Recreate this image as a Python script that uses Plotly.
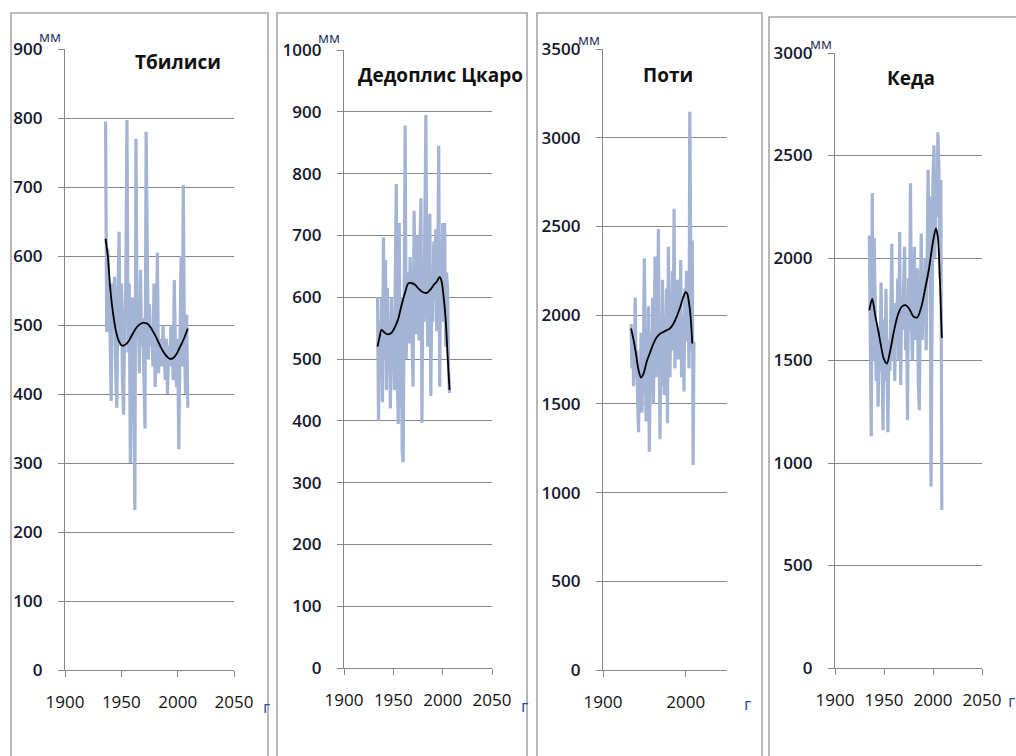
import plotly.graph_objects as go

# ---------------- DATA ----------------
stations = ["Тбилиси", "Дедоплис Цкаро", "Поти", "Кеда"]

tbilisi_start = 1936
tbilisi_vals = [795, 490, 610, 560, 485, 390, 560, 520, 570, 430,
                380, 540, 635, 470, 560, 420, 370, 510, 570, 797,
                460, 560, 300, 470, 540, 410, 232, 770, 480, 540,
                430, 580, 470, 510, 450, 350, 780, 570, 450, 530,
                470, 500, 440, 560, 410, 480, 605, 430, 470, 480,
                440, 500, 470, 420, 480, 400, 470, 440, 500, 480,
                420, 565, 470, 410, 480, 320, 460, 600, 440, 703,
                470, 400, 515, 380]
tbilisi_trend_years = [1936, 1938, 1940, 1942, 1945, 1948, 1951, 1954, 1957, 1961, 1965, 1969,
                       1973, 1977, 1981, 1985, 1989, 1993, 1996, 1999, 2002, 2005, 2009]
tbilisi_trend = [625, 600, 556, 525, 493, 476, 470, 472, 478, 490, 499, 503,
                 502, 494, 482, 468, 457, 451, 452, 458, 468, 478, 495]

dedo_start = 1934
dedo_vals = [600, 400, 560, 470, 600, 430, 697, 500, 660, 450,
             615, 480, 560, 420, 600, 510, 540, 450, 640, 783,
             470, 395, 720, 420, 600, 350, 333, 620, 878, 500,
             560, 640, 525, 665, 600, 480, 455, 740, 620, 540,
             700, 580, 530, 690, 760, 397, 640, 560, 700, 895,
             600, 520, 680, 735, 440, 620, 560, 690, 600, 710,
             545, 640, 845, 455, 680, 600, 720, 560, 720, 520,
             640, 610, 480, 445]
dedo_trend_years = [1934, 1936, 1938, 1941, 1944, 1948, 1952, 1955, 1958, 1962, 1965, 1968,
                    1972, 1976, 1980, 1984, 1988, 1991, 1994, 1997, 1999, 2001, 2003, 2005, 2007]
dedo_trend = [520, 535, 547, 543, 540, 542, 553, 565, 585, 608, 622, 623,
              620, 613, 608, 607, 613, 620, 625, 633, 625, 600, 565, 505, 450]

poti_start = 1934
poti_vals = [1950, 1700, 1880, 1600, 1750, 2100, 1650, 1800, 1500, 1340,
             1700, 1550, 1900, 1450, 1650, 1800, 2320, 1600, 1400, 1750,
             1500, 2050, 1230, 1600, 1900, 1700, 2100, 1500, 1800, 2330,
             1650, 2000, 1850, 2485, 1700, 1300, 1950, 1600, 2200, 1800,
             1550, 2000, 1750, 2150, 1390, 2385, 1900, 1650, 2050, 1800,
             2250, 1950, 2600, 1700, 2000, 1850, 2200, 1750, 2050, 1900,
             2310, 1650, 2000, 1800, 1570, 2150, 1900, 2250, 1850, 2050,
             1700, 3146, 2100, 1800, 2420, 1156, 1850]
poti_trend_years = [1934, 1937, 1940, 1943, 1946, 1949, 1953, 1957, 1961, 1965, 1969, 1973,
                    1977, 1981, 1985, 1989, 1993, 1997, 2000, 2002, 2004, 2006, 2008]
poti_trend = [1925, 1860, 1780, 1690, 1648, 1670, 1740, 1790, 1840, 1875, 1895, 1905,
              1915, 1925, 1950, 1990, 2040, 2100, 2130, 2120, 2070, 1990, 1840]

keda_start = 1935
keda_vals = [2110, 1700, 1130, 2317, 1500, 2097, 1750, 1400, 1650, 1275,
             1600, 1450, 1880, 1550, 1160, 1700, 1400, 1850, 1500, 1150,
             1600, 1450, 1750, 2070, 1500, 1650, 1400, 1780, 1600, 1900,
             1500, 2127, 1380, 1800, 1650, 1900, 2055, 1550, 1750, 1210,
             1900, 1650, 2365, 1700, 1500, 1850, 2055, 1600, 1800, 1950,
             1400, 1258, 1750, 2120, 1600, 1850, 1700, 2000, 1550, 2200,
             2430, 1900, 2300, 884, 2100, 2400, 2550, 2000, 2350, 2200,
             2613, 2450, 1900, 2380, 771]
keda_trend_years = [1935, 1938, 1941, 1944, 1947, 1950, 1953, 1956, 1960, 1964, 1968, 1972,
                    1976, 1980, 1984, 1988, 1992, 1996, 2000, 2003, 2005, 2007, 2009]
keda_trend = [1745, 1800, 1720, 1650, 1570, 1505, 1485, 1540, 1640, 1720, 1762, 1770,
              1750, 1715, 1710, 1760, 1850, 1950, 2080, 2145, 2100, 1900, 1610]

y_max = [900, 1000, 3500, 3000]
y_step = [100, 100, 500, 500]
x_step = [50, 50, 100, 50]
x_range = [1900, 2050]

series = [
    (tbilisi_start, tbilisi_vals, tbilisi_trend_years, tbilisi_trend),
    (dedo_start, dedo_vals, dedo_trend_years, dedo_trend),
    (poti_start, poti_vals, poti_trend_years, poti_trend),
    (keda_start, keda_vals, keda_trend_years, keda_trend),
]

# ---------------- LAYOUT (pixels) ----------------
W, H = 1016, 756
plot_px = [  # left, right, top, bottom
    (65, 234, 49, 670),
    (344, 492, 50, 668),
    (603, 727, 49, 670),
    (835, 982, 53, 668),
]
frames_px = [(11, 268, 13), (277, 527, 13), (537, 762, 13), (769, 1022, 17)]
title_px = [(178, 62), (440, 75), (668, 75), (911, 78)]
mm_px = [(63, 36), (342, 37), (602, 39), (834, 43)]
g_px = [(266, 706), (524, 705), (747, 703), (1011, 700)]

def px(x):
    return x / W

def py(y):
    return 1 - y / H

GRID = "#868686"
BLUE = "#a3b4d4"
FONT = "Open Sans"

fig = go.Figure()
layout = dict(width=W, height=H,
              margin=dict(l=0, r=0, t=0, b=0, pad=0, autoexpand=False),
              paper_bgcolor="white", plot_bgcolor="white", showlegend=False)
annotations = []
shapes = []

for i, (start, vals, ty, tv) in enumerate(series):
    n = "" if i == 0 else str(i + 1)
    years = list(range(start, start + len(vals)))
    fig.add_trace(go.Scatter(x=years, y=vals, mode="lines",
                             line=dict(color=BLUE, width=3.2),
                             xaxis="x" + n, yaxis="y" + n, hoverinfo="skip"))
    fig.add_trace(go.Scatter(x=ty, y=tv, mode="lines",
                             line=dict(color="black", width=1.8, shape="spline", smoothing=0.8),
                             xaxis="x" + n, yaxis="y" + n, hoverinfo="skip"))
    l, r, t, b = plot_px[i]
    layout["xaxis" + n] = dict(
        domain=[px(l), px(r)], range=x_range, anchor="y" + n, automargin=False,
        tickmode="linear", tick0=1900, dtick=x_step[i],
        showgrid=False, zeroline=False, showline=True, linecolor=GRID, linewidth=1.3,
        ticks="outside", ticklen=6, tickcolor=GRID, tickwidth=1.3,
        ticklabelstandoff=10,
        tickfont=dict(family=FONT, size=17, color="#111"), fixedrange=True)
    layout["yaxis" + n] = dict(
        domain=[py(b), py(t)], range=[0, y_max[i]], anchor="x" + n, automargin=False,
        tickmode="linear", tick0=0, dtick=y_step[i],
        showgrid=True, gridcolor=GRID, gridwidth=1.3, zeroline=False,
        showline=True, linecolor=GRID, linewidth=1.3,
        ticks="outside", ticklen=6, tickcolor=GRID, tickwidth=1.3,
        ticklabelstandoff=12,
        tickfont=dict(family=FONT, size=17, color="#14182e", weight=600), fixedrange=True)

    fl, fr, ft = frames_px[i]
    shapes.append(dict(type="rect", xref="paper", yref="paper",
                       x0=px(fl), x1=px(fr), y0=py(H + 10), y1=py(ft),
                       line=dict(color="#a6a6a6", width=1.6), fillcolor="rgba(0,0,0,0)",
                       layer="above"))
    tx, tyy = title_px[i]
    annotations.append(dict(text="<b>" + stations[i] + "</b>", xref="paper", yref="paper",
                            x=px(tx), y=py(tyy), xanchor="center", yanchor="middle",
                            showarrow=False, font=dict(family=FONT, size=19, color="#111")))
    mx, my = mm_px[i]
    annotations.append(dict(text="мм", xref="paper", yref="paper",
                            x=px(mx), y=py(my), xanchor="right", yanchor="middle",
                            showarrow=False, font=dict(family=FONT, size=15, color="#2b3560")))
    gx, gy = g_px[i]
    annotations.append(dict(text="г", xref="paper", yref="paper",
                            x=px(gx), y=py(gy), xanchor="center", yanchor="middle",
                            showarrow=False, font=dict(family=FONT, size=17, color="#2f4a9a")))

layout["annotations"] = annotations
layout["shapes"] = shapes
fig.update_layout(**layout)
fig.write_html("out.html")
